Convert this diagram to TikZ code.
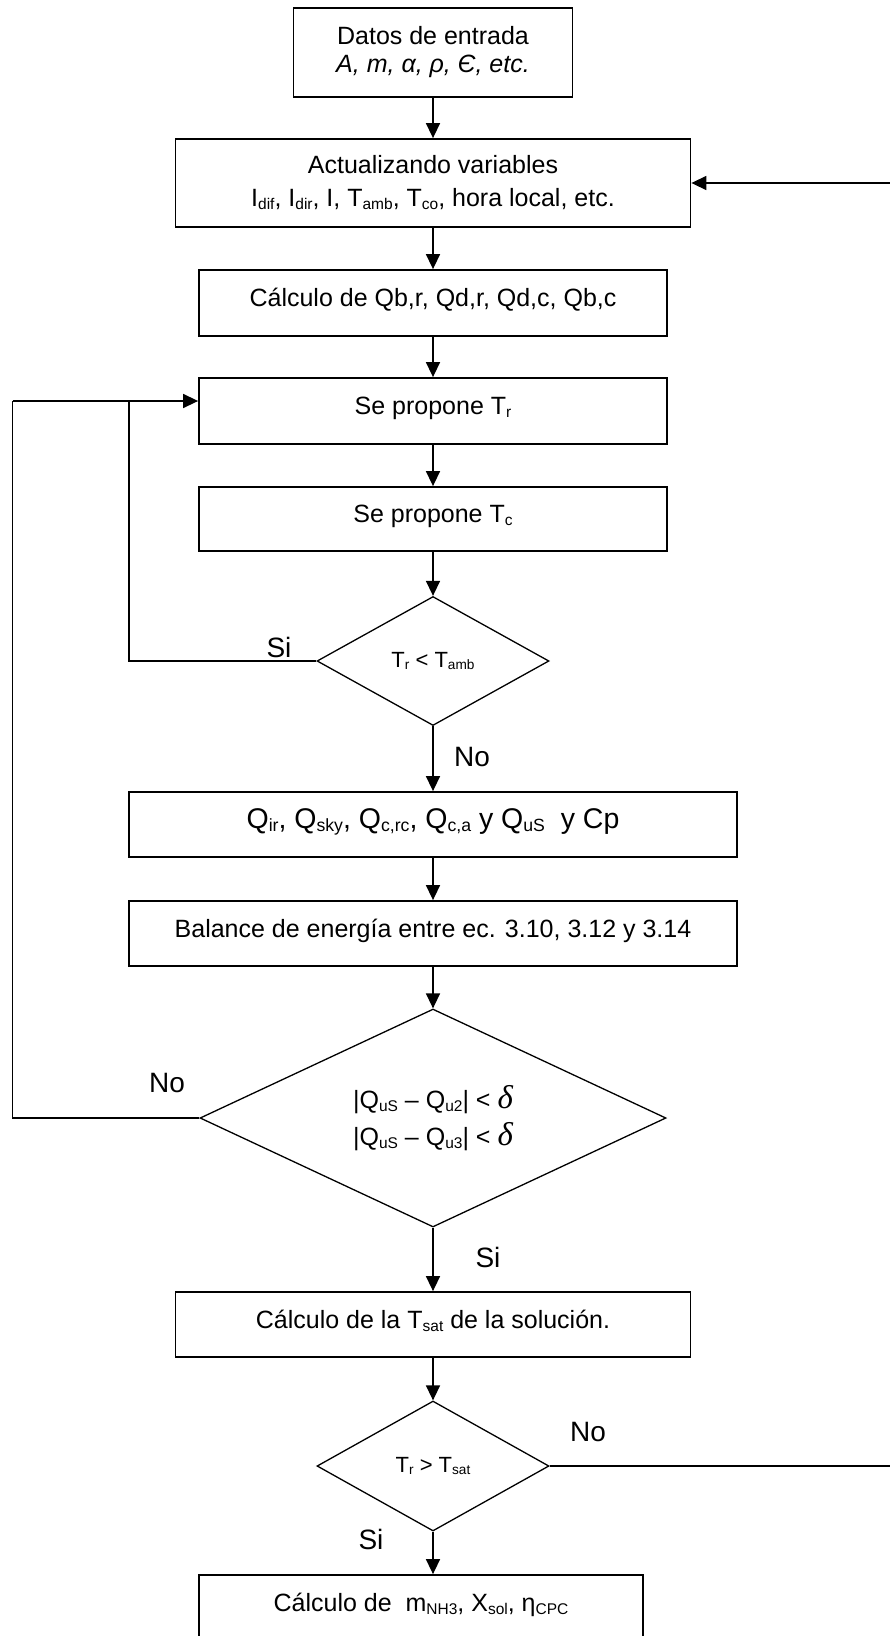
\documentclass[tikz,border=0pt]{standalone}
\usepackage{fontspec}
\usepackage{graphicx}
\setmainfont{Liberation Sans}
\newfontfamily\dfont{Liberation Serif}
\usetikzlibrary{shapes.geometric,arrows.meta}

% lowered, reduced index text (subscripts of the variable names)
\newcommand\sbs[1]{\raisebox{-0.12em}{\scalebox{0.62}{#1}}}
% tolerance symbol, set larger in a serif italic
\newcommand\dlt{{\dfont\itshape\fontsize{33}{24}\selectfont δ}}

\tikzset{
  box/.style={draw, line width=1.8pt, rectangle, inner sep=0pt,
              font=\fontsize{25}{32}\selectfont, align=center},
  lift/.style={text height=22pt, text depth=15pt},
  decision/.style={draw, line width=1.3pt, diamond, aspect=2, inner sep=0pt,
              font=\fontsize{22}{28}\selectfont, align=center},
  flow/.style={line width=1.5pt, -{Triangle[length=15pt,width=14pt]}},
  plain/.style={line width=1.5pt},
  tag/.style={font=\fontsize{28}{28}\selectfont, inner sep=0pt},
}

\begin{document}
\begin{tikzpicture}[x=1pt, y=-1pt]
  % canvas
  \fill[white] (0,0) rectangle (890,1636);
  \useasboundingbox (0,0) rectangle (890,1636);

  % process boxes
  \node[box, minimum width=279pt, minimum height=89pt,
        font=\fontsize{25}{28}\selectfont] (b1) at (433,52.5)
    {Datos de entrada\\ \textit{A, m, α, ρ, Є, etc.}};
  \node[box, minimum width=515pt, minimum height=88pt,
        font=\fontsize{25}{33}\selectfont] (b2) at (433,183)
    {Actualizando variables\\ I\sbs{dif}, I\sbs{dir}, I, T\sbs{amb}, T\sbs{co}, hora local, etc.};
  \node[box, lift, minimum width=468pt, minimum height=66pt] (b3) at (433,303)
    {Cálculo de Qb,r, Qd,r, Qd,c, Qb,c};
  \node[box, lift, minimum width=468pt, minimum height=66pt] (b4) at (433,411)
    {Se propone T\sbs{r}};
  \node[box, lift, minimum width=468pt, minimum height=64pt] (b5) at (433,519)
    {Se propone T\sbs{c}};

  \node[decision, minimum width=232pt, minimum height=129pt] (d1) at (433,661)
    {T\sbs{r} < T\sbs{amb}};

  \node[box, lift, minimum width=608pt, minimum height=65pt,
        font=\fontsize{28.5}{32}\selectfont] (b6) at (433,824.5)
    {Q\sbs{ir}, Q\sbs{sky}, Q\sbs{c,rc}, Q\sbs{c,a} y Q\sbs{uS}\ \ y Cp};
  \node[box, lift, minimum width=608pt, minimum height=65pt] (b7) at (433,933.5)
    {Balance de energía entre ec. 3.10, 3.12 y 3.14};

  \node[decision, minimum width=466pt, minimum height=218pt,
        font=\fontsize{25}{37}\selectfont] (d2) at (433,1118)
    {|Q\sbs{uS} – Q\sbs{u2}| < \dlt\\ |Q\sbs{uS} – Q\sbs{u3}| < \dlt};

  \node[box, lift, minimum width=515pt, minimum height=65pt] (b8) at (433,1324.5)
    {Cálculo de la T\sbs{sat} de la solución.};

  \node[decision, minimum width=232pt, minimum height=130pt] (d3) at (433,1466)
    {T\sbs{r} > T\sbs{sat}};

  \node[box, lift, minimum width=444pt, minimum height=66pt] (b9) at (421,1608)
    {Cálculo de \ m\sbs{NH3}, X\sbs{sol}, η\sbs{CPC}};

  % main sequence
  \draw[flow] (b1.south) -- (b2.north);
  \draw[flow] (b2.south) -- (b3.north);
  \draw[flow] (b3.south) -- (b4.north);
  \draw[flow] (b4.south) -- (b5.north);
  \draw[flow] (b5.south) -- (d1.north);
  \draw[flow] (d1.south) -- (b6.north);
  \draw[flow] (b6.south) -- (b7.north);
  \draw[flow] (b7.south) -- (d2.north);
  \draw[flow] (d2.south) -- (b8.north);
  \draw[flow] (b8.south) -- (d3.north);
  \draw[flow] (d3.south) -- (d3.south |- b9.north);

  % return loops on the left
  \coordinate (kin)  at (129,401);
  \coordinate (kout) at (12.5,401);
  \draw[plain] (d1.west) -| (kin);
  \draw[plain] (d2.west) -| (kout);
  \draw[flow] (kout) -- (kin -| b4.west);

  % return loop on the right
  \coordinate (rr) at (893,183);
  \draw[plain] (d3.east) -| (rr);
  \draw[flow] (rr) -- (b2.east);

  % branch labels
  \node[tag] (s1) at (279,647)  {Si};
  \node[tag] (n1) at (472,757)  {No};
  \node[tag] (n2) at (167,1083) {No};
  \node[tag] (s2) at (488,1257) {Si};
  \node[tag] (n3) at (588,1432) {No};
  \node[tag] (s3) at (371,1539) {Si};
\end{tikzpicture}
\end{document}
